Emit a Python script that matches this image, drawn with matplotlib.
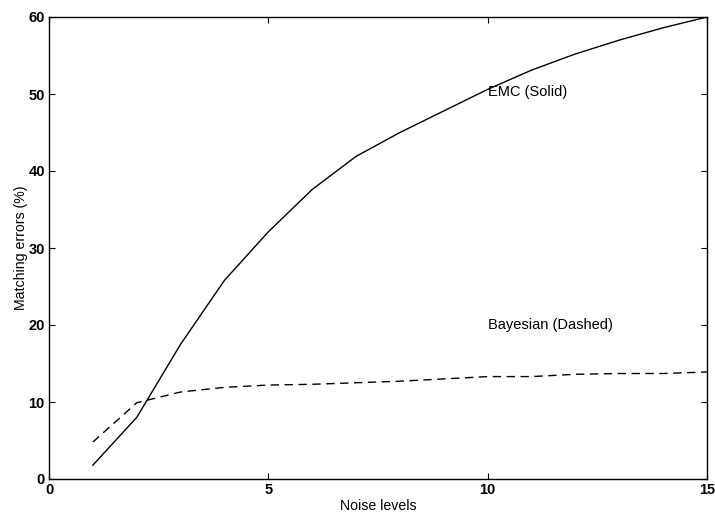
import numpy as np
import matplotlib.pyplot as plt

plt.rcParams['font.family'] = ['Liberation Sans', 'DejaVu Sans']

# Data
noise_levels = [1, 2, 3, 4, 5, 6, 7, 8, 9, 10, 11, 12, 13, 14, 15]
emc_errors = [1.8, 8.0, 17.5, 25.8, 32.1, 37.6, 41.9, 45.0, 47.8, 50.6, 53.1, 55.2, 57.0, 58.6, 60.0]
bayes_errors = [4.8, 9.9, 11.3, 11.9, 12.2, 12.3, 12.5, 12.7, 13.0, 13.3, 13.3, 13.6, 13.7, 13.7, 13.9]

x_ticks = [0, 5, 10, 15]
y_ticks = [0, 10, 20, 30, 40, 50, 60]

fig = plt.figure(figsize=(7.15, 5.14), dpi=100)
ax = fig.add_axes([49 / 715, 1 - 479 / 514, 658 / 715, 462 / 514])

ax.plot(noise_levels, emc_errors, color='black', linewidth=1.0, linestyle='-')
ax.plot(noise_levels, bayes_errors, color='black', linewidth=1.0, linestyle=(0, (6, 4)))

ax.text(10.0, 50.3, 'EMC (Solid)', fontsize=10.5, va='center', ha='left')
ax.text(10.0, 20.0, 'Bayesian (Dashed)', fontsize=10.5, va='center', ha='left')

ax.set_xlim(0, 15)
ax.set_ylim(0, 60)
ax.set_xticks(x_ticks)
ax.set_yticks(y_ticks)
ax.tick_params(direction='in', top=True, right=True, length=4, width=0.8,
               labelsize=10.5, pad=3)
for lbl in ax.get_xticklabels() + ax.get_yticklabels():
    lbl.set_fontweight('bold')

ax.set_xlabel('Noise levels', fontsize=10.2, labelpad=1)
ax.set_ylabel('Matching errors (%)', fontsize=10.2, labelpad=0)

for s in ax.spines.values():
    s.set_linewidth(1.0)

fig.savefig('out.png', dpi=100)
